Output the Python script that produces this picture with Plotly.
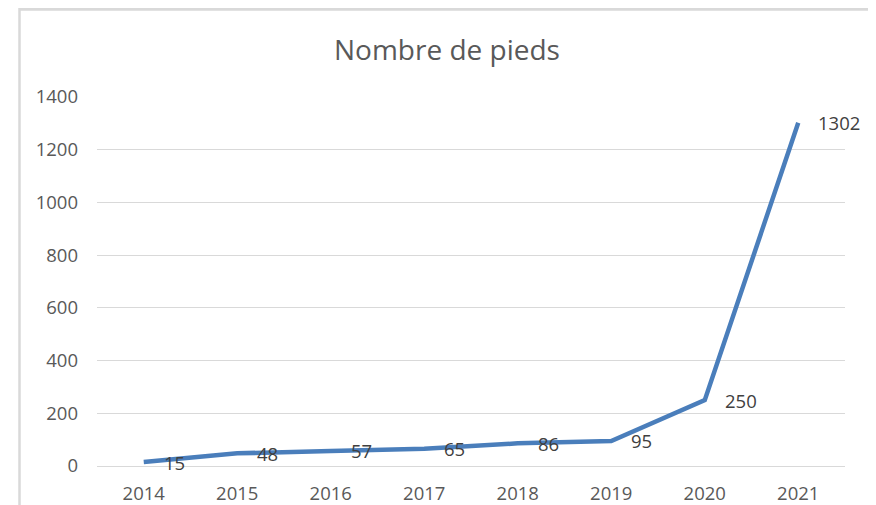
import plotly.graph_objects as go

years = ["2014", "2015", "2016", "2017", "2018", "2019", "2020", "2021"]
pieds = [15, 48, 57, 65, 86, 95, 250, 1302]
y_ticks = [0, 200, 400, 600, 800, 1000, 1200, 1400]
title_text = "Nombre de pieds"

FONT = "'Open Sans', Lato, sans-serif"

# The page body adds an 8px offset; size the figure so it fits the window.
OFF = 8
W, H = 876 - OFF, 505 - OFF
L, R, T, B = 97 - OFF, 31, 97 - OFF, 39
pw, ph = W - L - R, H - T - B

def px2x(px):
    return (px - OFF - L) / pw

def py2y(py):
    return (H - B - (py - OFF)) / ph

fig = go.Figure()
fig.add_trace(go.Scatter(
    x=years, y=pieds, mode="lines",
    line=dict(color="#4A7EBB", width=4.5),
    hoverinfo="x+y", showlegend=False,
))

annotations = []
for i, v in enumerate(pieds):
    annotations.append(dict(
        x=i, y=v, xref="x", yref="y", text=str(v), showarrow=False,
        xanchor="left", yanchor="middle", xshift=18, yshift=0,
        font=dict(family=FONT, size=18.5, color="#404040"),
    ))

border = "#D9D9D9"
shapes = [
    dict(type="line", xref="paper", yref="paper", x0=px2x(19.5), x1=px2x(19.5),
         y0=py2y(0), y1=py2y(505), line=dict(color=border, width=2.5)),
    dict(type="line", xref="paper", yref="paper", x0=px2x(870), x1=px2x(870),
         y0=py2y(0), y1=py2y(505), line=dict(color=border, width=2.5)),
    dict(type="line", xref="paper", yref="paper", x0=px2x(19), x1=px2x(870.5),
         y0=py2y(9), y1=py2y(9), line=dict(color=border, width=3.5)),
]

fig.update_layout(
    width=W, height=H,
    margin=dict(l=L, r=R, t=T, b=B, pad=0, autoexpand=False),
    paper_bgcolor="white", plot_bgcolor="white",
    title=dict(text=title_text, x=(447 - OFF) / W, xanchor="center",
               y=1 - (50 - OFF) / H, yanchor="middle",
               font=dict(family=FONT, size=28, color="#595959")),
    xaxis=dict(type="category", range=[-0.5, 7.5], showgrid=False, showline=False,
               zeroline=False, ticks="", ticklabelstandoff=14, automargin=False,
               tickfont=dict(family=FONT, size=18.5, color="#595959")),
    yaxis=dict(range=[0, 1400], tickvals=y_ticks, showgrid=True, gridcolor="#D9D9D9",
               gridwidth=1.3, zeroline=True, zerolinecolor="#D9D9D9", zerolinewidth=1.3,
               showline=False, ticks="", ticklabelstandoff=18, automargin=False,
               tickfont=dict(family=FONT, size=18.5, color="#595959")),
    annotations=annotations,
    shapes=shapes,
)

fig.write_html("out.html")
